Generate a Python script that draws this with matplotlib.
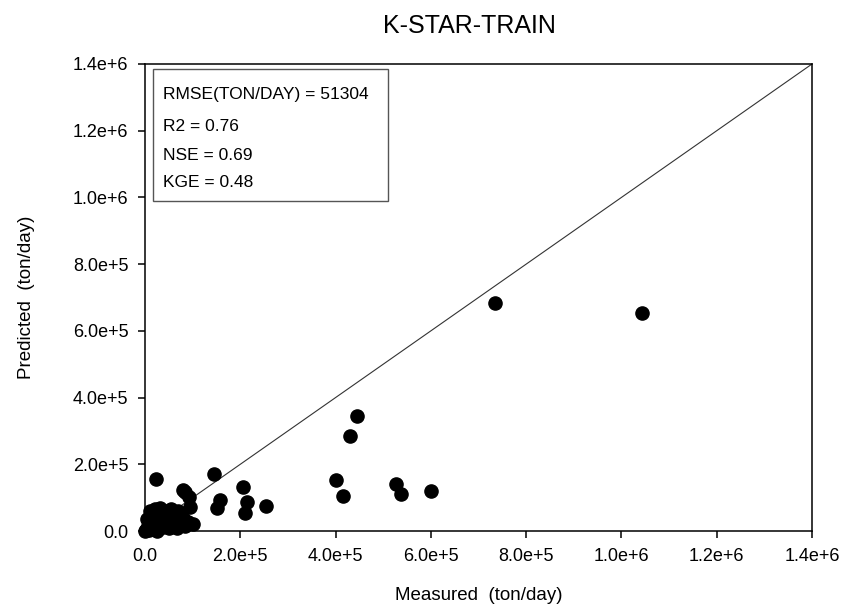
import numpy as np
import matplotlib
matplotlib.use('Agg')
import matplotlib.pyplot as plt
from matplotlib.patches import Rectangle

plt.rcParams['font.family'] = ['Liberation Sans', 'DejaVu Sans']

# measured vs predicted sediment load (ton/day)
measured = [
    1.044e6, 7.35e5, 4.45e5, 4.31e5, 4.01e5, 4.16e5, 5.27e5, 5.38e5, 6.01e5,
    2.3e4, 1.45e5, 2.06e5, 8.0e4, 8.5e4, 9.3e4, 1.58e5, 1.51e5, 2.14e5, 2.10e5,
    2.54e5, 9.5e4, 1.0e5,
    3e3, 5e3, 8e3, 1.0e4, 1.2e4, 1.5e4, 1.8e4, 2.0e4, 2.2e4, 2.5e4, 2.8e4,
    3.0e4, 3.2e4, 3.5e4, 3.8e4, 4.0e4, 4.3e4, 4.5e4, 5.0e4, 5.2e4, 5.5e4,
    5.8e4, 6.0e4, 6.5e4, 6.8e4, 7.0e4, 7.5e4, 8.0e4, 8.5e4, 9.0e4, 1.5e4,
    5e3, 2.5e4, 1.0e4, 1e3, 6e3,
]
predicted = [
    6.53e5, 6.85e5, 3.45e5, 2.85e5, 1.53e5, 1.05e5, 1.41e5, 1.11e5, 1.20e5,
    1.56e5, 1.70e5, 1.32e5, 1.23e5, 1.17e5, 1.02e5, 9.3e4, 6.9e4, 8.7e4, 5.4e4,
    7.5e4, 7.2e4, 2.1e4,
    2e3, 8e3, 3e3, 1.5e4, 5e3, 2.5e4, 1.0e4, 4.0e4, 6.5e4, 2.0e4, 6e3,
    5.5e4, 7.0e4, 3.0e4, 1.2e4, 4.5e4, 6.0e4, 2.2e4, 8e3, 3.5e4, 6.5e4,
    1.8e4, 5.0e4, 3.0e4, 1.0e4, 6.0e4, 2.5e4, 4.0e4, 1.5e4, 2.8e4, 4.8e4,
    3.5e4, 1e3, 6.0e4, 1e3, 5e3,
]

stats_lines = ['RMSE(TON/DAY) = 51304', 'R2 = 0.76', 'NSE = 0.69', 'KGE = 0.48']
ticks = np.arange(0, 1.41e6, 2e5)
tick_labels = ['0.0', '2.0e+5', '4.0e+5', '6.0e+5', '8.0e+5', '1.0e+6', '1.2e+6', '1.4e+6']

fig = plt.figure(figsize=(8.42, 6.10), dpi=100)
ax = fig.add_axes([0.1722, 0.1295, 0.7922, 0.7656])

ax.plot([0, 1.4e6], [0, 1.4e6], color='#333333', lw=0.8, zorder=1)
ax.scatter(measured, predicted, s=90, color='black', zorder=3, clip_on=False)

ax.set_xlim(0, 1.4e6)
ax.set_ylim(0, 1.4e6)
ax.set_xticks(ticks)
ax.set_xticklabels(tick_labels)
ax.set_yticks(ticks)
ax.set_yticklabels(tick_labels)
ax.tick_params(direction='out', length=5, width=1.1, labelsize=13, pad=7)
for sp in ax.spines.values():
    sp.set_linewidth(1.1)

ax.set_xlabel('Measured  (ton/day)', fontsize=13.5, labelpad=16)
ax.set_ylabel('Predicted  (ton/day)', fontsize=13.5, labelpad=27)
fig.text(0.558, 0.957, 'K-STAR-TRAIN', fontsize=18, ha='center', va='center')

# stats box
ax.add_patch(Rectangle((0.012, 0.7066), 0.352, 0.2827, transform=ax.transAxes,
                       fc='white', ec='#555555', lw=1, zorder=4))
for line, yy in zip(stats_lines, [0.9336, 0.8651, 0.8051, 0.7473]):
    ax.text(0.027, yy, line, transform=ax.transAxes, fontsize=12.5,
            va='center', ha='left', zorder=5)

fig.savefig('out.png', dpi=100)
